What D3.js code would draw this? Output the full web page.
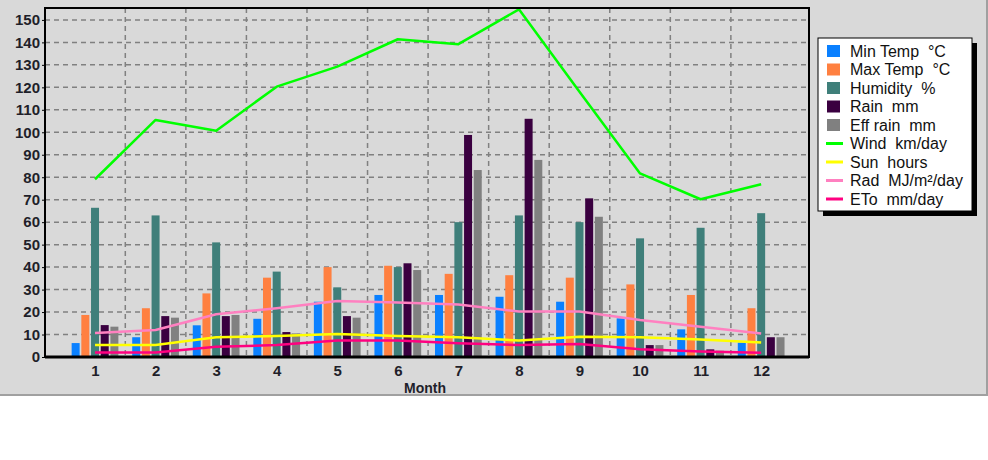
<!DOCTYPE html>
<html><head><meta charset="utf-8">
<script src="https://cdn.jsdelivr.net/npm/d3@7"></script>
<style>html,body{margin:0;padding:0;background:#fff;}svg{display:block;font-family:Arial,"Liberation Sans",sans-serif;}</style>
</head><body>
<svg id="chart" width="988" height="460"></svg>
<script>
const months = [1,2,3,4,5,6,7,8,9,10,11,12];
const minTemp = [6.2, 8.8, 14.1, 17, 24.6, 27.6, 27.6, 26.8, 24.6, 17.2, 12.3, 6.4];
const maxTemp = [18.7, 21.7, 28.3, 35.3, 40, 40.6, 37, 36.4, 35.3, 32.3, 27.6, 21.7];
const humidity = [66.4, 63, 51, 38, 31, 40, 60, 63, 60, 52.8, 57.5, 64];
const rain = [14.2, 18.2, 18.2, 11.1, 18.2, 41.7, 98.8, 106, 70.6, 5.3, 3.4, 8.8];
const effRain = [13.5, 17.5, 18.7, 10.5, 17.5, 38.7, 83.2, 87.7, 62.4, 5.3, 2.8, 8.8];
const wind = [79.1, 105.5, 100.7, 120.3, 129.2, 141.4, 139.2, 154.7, 118, 81.7, 70.2, 76.9];
const sun = [5.3, 5.3, 8.8, 9.3, 10.2, 9.3, 8.8, 7.3, 9, 8.8, 7.8, 6.5];
const rad = [10.7, 12, 19, 21.7, 24.9, 24.2, 23.4, 20.2, 20.2, 16.5, 13.5, 10.5];
const eto = [2, 2, 4.6, 5.3, 7.3, 7.3, 6.1, 5.3, 5.8, 3.4, 2.4, 1.9];
const yTicks = [0,10,20,30,40,50,60,70,80,90,100,110,120,130,140,150];
const xLabel = "Month";

const barSeries = [
  {name:"Min Temp  °C", values:minTemp, color:"#0a80ff"},
  {name:"Max Temp  °C", values:maxTemp, color:"#ff8040"},
  {name:"Humidity  %", values:humidity, color:"#3f7f7a"},
  {name:"Rain  mm", values:rain, color:"#3a0040"},
  {name:"Eff rain  mm", values:effRain, color:"#808080"}
];
const lineSeries = [
  {name:"Wind  km/day", values:wind, color:"#00ff00", w:2.5},
  {name:"Sun  hours", values:sun, color:"#ffff00", w:2.5},
  {name:"Rad  MJ/m²/day", values:rad, color:"#ff80c0", w:2.5},
  {name:"ETo  mm/day", values:eto, color:"#ff0080", w:2.5}
];

const svg = d3.select("#chart");
const L = 45, R = 809, T = 8, B = 357;

// panel background
svg.append("rect").attr("x",0).attr("y",0).attr("width",987).attr("height",395).attr("fill","#d9d9d9");
svg.append("line").attr("x1",987).attr("x2",987).attr("y1",0).attr("y2",396).attr("stroke","#a0a0a0").attr("stroke-width",2);
svg.append("line").attr("x1",0).attr("x2",988).attr("y1",395).attr("y2",395).attr("stroke","#a0a0a0").attr("stroke-width",2);

const x = d3.scaleLinear().domain([0.174, 12.79]).range([L, R]);
const y = d3.scaleLinear().domain([0, 155.3]).range([B, T]);

// grid
const g = svg.append("g");
g.selectAll(".hg").data(yTicks.filter(d=>d>0)).join("line")
  .attr("x1",L).attr("x2",R).attr("y1",d=>y(d)).attr("y2",d=>y(d))
  .attr("stroke","#808080").attr("stroke-width",1.5).attr("stroke-dasharray","5,4");
g.selectAll(".vg").data(months.slice(0,11)).join("line")
  .attr("x1",d=>x(d+0.5)).attr("x2",d=>x(d+0.5)).attr("y1",T).attr("y2",B)
  .attr("stroke","#808080").attr("stroke-width",1.5).attr("stroke-dasharray","5,4");

// bars
const bw = 0.132, step = 0.16;
barSeries.forEach((s,i)=>{
  svg.append("g").selectAll("rect").data(months).join("rect")
    .attr("x",(d)=>x(d + (i-2)*step - bw/2))
    .attr("width",(d)=>x(d + (i-2)*step + bw/2) - x(d + (i-2)*step - bw/2))
    .attr("y",(d,j)=>y(s.values[j]))
    .attr("height",(d,j)=>y(0)-y(s.values[j]))
    .attr("fill",s.color);
});

// lines
const lineGen = (vals)=>d3.line().x((d,j)=>x(months[j])).y(d=>y(d))(vals);
[lineSeries[0], lineSeries[2], lineSeries[1], lineSeries[3]].forEach(s=>{
  svg.append("path").attr("d",lineGen(s.values)).attr("fill","none")
    .attr("stroke",s.color).attr("stroke-width",s.w).attr("stroke-linejoin","round");
});

// frame
svg.append("rect").attr("x",L).attr("y",T).attr("width",R-L).attr("height",B-T)
  .attr("fill","none").attr("stroke","#000").attr("stroke-width",2);
svg.append("line").attr("x1",L).attr("x2",R).attr("y1",B).attr("y2",B).attr("stroke","#000").attr("stroke-width",3);

// y axis
const yAxis = d3.axisLeft(y).tickValues(yTicks).tickSize(3).tickPadding(2);
const ya = svg.append("g").attr("transform",`translate(${L},0)`).call(yAxis);
ya.select(".domain").remove();
ya.selectAll("line").attr("stroke","#000");
ya.selectAll("text").attr("font-size",15).attr("font-weight","bold").attr("fill","#1f1f2a")
  .attr("font-family","Arial, 'Liberation Sans', sans-serif");

// x axis
const xAxis = d3.axisBottom(x).tickValues(months).tickFormat(d3.format("d")).tickSize(0).tickPadding(8);
const xa = svg.append("g").attr("transform",`translate(0,${B})`).call(xAxis);
xa.select(".domain").remove();
xa.selectAll("text").attr("font-size",15).attr("font-weight","bold").attr("fill","#1f1f2a")
  .attr("font-family","Arial, 'Liberation Sans', sans-serif");

svg.append("text").attr("x",425).attr("y",393).attr("text-anchor","middle")
  .attr("font-size",14).attr("font-weight","bold").attr("fill","#1f1f2a").text(xLabel);

// legend
const lx = 818, ly = 38, lw = 154, lh = 173;
svg.append("rect").attr("x",lx+5).attr("y",ly+5).attr("width",lw).attr("height",lh).attr("fill","#000");
svg.append("rect").attr("x",lx).attr("y",ly).attr("width",lw).attr("height",lh).attr("fill","#fff").attr("stroke","#000").attr("stroke-width",1);
const items = barSeries.map(s=>({...s,type:"bar"})).concat(lineSeries.map(s=>({...s,type:"line"})));
const lg = svg.append("g");
items.forEach((it,i)=>{
  const cy = ly + 13 + i*18.5;
  if(it.type==="bar"){
    lg.append("rect").attr("x",827).attr("y",cy-6).attr("width",13).attr("height",12).attr("fill",it.color);
  } else {
    lg.append("line").attr("x1",826).attr("x2",843).attr("y1",cy).attr("y2",cy).attr("stroke",it.color).attr("stroke-width",3);
  }
  lg.append("text").attr("x",850).attr("y",cy+5.5).attr("font-size",16).attr("fill","#111")
    .attr("xml:space","preserve").style("white-space","pre").text(it.name);
});
</script>
</body></html>
